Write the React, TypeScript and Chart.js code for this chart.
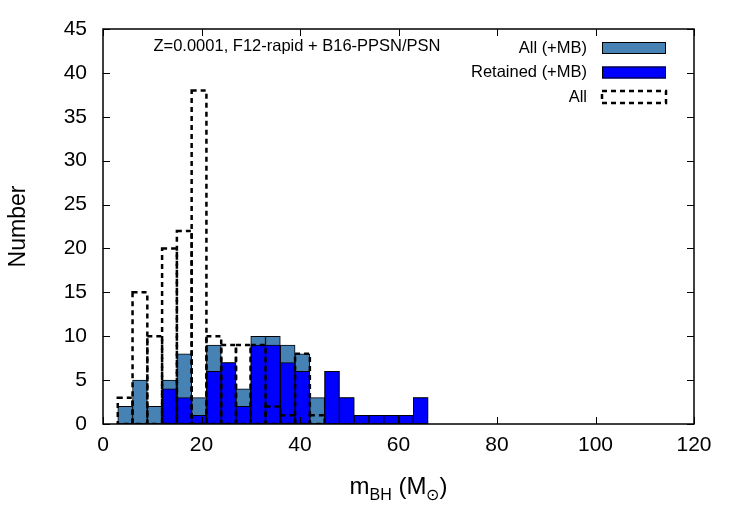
import { useEffect, useRef } from "react";
import { Chart, registerables } from "chart.js";

Chart.register(...registerables);

// Histogram bins: each bin spans [start, start + binWidth)
const binWidth = 3;
const binStarts = [3, 6, 9, 12, 15, 18, 21, 24, 27, 30, 33, 36, 39, 42, 45, 48, 51, 54, 57, 60, 63];
const allWithMB = [2, 5, 2, 5, 8, 3, 9, 7, 4, 10, 10, 9, 8, 3, 6, 3, 1, 1, 1, 1, 3];
const retainedWithMB = [0, 0, 0, 4, 3, 1, 6, 7, 2, 9, 9, 7, 6, 0, 6, 3, 1, 1, 1, 1, 3];
const allNoMB = [3, 15, 10, 20, 22, 38, 10, 9, 9, 9, 2, 1, 8, 1, 0, 0, 0, 0, 0, 0, 0];

const xTicks = [0, 20, 40, 60, 80, 100, 120];
const yTicks = [0, 5, 10, 15, 20, 25, 30, 35, 40, 45];

const titleText = "Z=0.0001, F12-rapid + B16-PPSN/PSN";
const legendLabels = ["All (+MB)", "Retained (+MB)", "All"];

const STEEL = "#4682b4";
const BLUE = "#0000ff";
const FONT = "'Liberation Sans', Arial, Helvetica, sans-serif";
const DASH = [5, 4];

const toPoints = (vals: number[]) =>
  binStarts.map((s, i) => ({ x: s + binWidth / 2, y: vals[i] === 0 ? null : vals[i] }));

// Dashed outline boxes for the "All" histogram
const dashedBoxes = {
  id: "dashedBoxes",
  afterDatasetsDraw(chart: any) {
    const { ctx, chartArea, scales } = chart;
    const x = scales.x;
    const y = scales.y;
    ctx.save();
    ctx.beginPath();
    ctx.rect(chartArea.left, chartArea.top, chartArea.right - chartArea.left, chartArea.bottom - chartArea.top);
    ctx.clip();
    ctx.strokeStyle = "#000";
    ctx.lineWidth = 2.5;
    ctx.setLineDash(DASH);
    binStarts.forEach((s, i) => {
      const v = allNoMB[i];
      if (!v) return;
      const x0 = x.getPixelForValue(s);
      const x1 = x.getPixelForValue(s + binWidth);
      const y0 = y.getPixelForValue(0);
      const y1 = y.getPixelForValue(v);
      ctx.strokeRect(x0, y1, x1 - x0, y0 - y1);
    });
    ctx.restore();
  },
};

// Frame, mirrored inward ticks, titles and key
const decorations = {
  id: "decorations",
  afterDraw(chart: any) {
    const { ctx, chartArea, scales } = chart;
    const { left, right, top, bottom } = chartArea;
    const x = scales.x;
    const y = scales.y;
    ctx.save();
    ctx.setLineDash([]);
    ctx.strokeStyle = "#000";
    ctx.lineWidth = 1.5;
    ctx.strokeRect(left, top, right - left, bottom - top);

    const tl = 7;
    ctx.lineWidth = 1;
    ctx.beginPath();
    xTicks.forEach((t) => {
      const px = Math.round(x.getPixelForValue(t)) + 0.5;
      ctx.moveTo(px, bottom);
      ctx.lineTo(px, bottom - tl);
      ctx.moveTo(px, top);
      ctx.lineTo(px, top + tl);
    });
    yTicks.forEach((t) => {
      const py = Math.round(y.getPixelForValue(t)) + 0.5;
      ctx.moveTo(left, py);
      ctx.lineTo(left + tl, py);
      ctx.moveTo(right, py);
      ctx.lineTo(right - tl, py);
    });
    ctx.stroke();

    ctx.fillStyle = "#000";

    // Title inside the plot
    ctx.font = `16.5px ${FONT}`;
    ctx.textAlign = "center";
    ctx.textBaseline = "middle";
    ctx.fillText(titleText, 297, 46);

    // Key
    const rows = [48, 72.5, 97];
    const bx0 = 602;
    const bx1 = 666;
    const bh = 12;
    ctx.font = `16.5px ${FONT}`;
    ctx.textAlign = "right";
    legendLabels.forEach((lab, i) => {
      ctx.fillText(lab, 587, rows[i]);
      const yTop = rows[i] - bh / 2;
      if (i < 2) {
        ctx.fillStyle = i === 0 ? STEEL : BLUE;
        ctx.fillRect(bx0, yTop, bx1 - bx0, bh);
        ctx.lineWidth = 1;
        ctx.strokeStyle = "#000";
        ctx.strokeRect(bx0 + 0.5, yTop + 0.5, bx1 - bx0 - 1, bh - 1);
        ctx.fillStyle = "#000";
      } else {
        ctx.lineWidth = 2.5;
        ctx.setLineDash(DASH);
        ctx.strokeRect(bx0, yTop, bx1 - bx0, bh);
        ctx.setLineDash([]);
      }
    });

    // Y axis title
    ctx.save();
    ctx.translate(19, (top + bottom) / 2);
    ctx.rotate(-Math.PI / 2);
    ctx.font = `23px ${FONT}`;
    ctx.textAlign = "center";
    ctx.textBaseline = "middle";
    ctx.fillText("Number", 0, 0);
    ctx.restore();

    // X axis title: m_BH (M_sun)
    const big = `24px ${FONT}`;
    const small = `16px ${FONT}`;
    const parts: [string, string, number][] = [
      ["m", big, 0],
      ["BH", small, 6],
      [" (M", big, 0],
      ["\u2299", small, 6],
      [")", big, 0],
    ];
    let total = 0;
    parts.forEach(([t, f]) => {
      ctx.font = f;
      total += ctx.measureText(t).width;
    });
    let cx = (left + right) / 2 - total / 2;
    const base = 494;
    ctx.textAlign = "left";
    ctx.textBaseline = "alphabetic";
    parts.forEach(([t, f, dy]) => {
      ctx.font = f;
      ctx.fillText(t, cx, base + dy);
      cx += ctx.measureText(t).width;
    });
    ctx.restore();
  },
};

export default function App() {
  const canvasRef = useRef<HTMLCanvasElement | null>(null);

  useEffect(() => {
    document.body.style.margin = "0";
    const canvas = canvasRef.current;
    if (!canvas) return;
    const chart = new Chart(canvas, {
      type: "bar",
      data: {
        datasets: [
          {
            label: legendLabels[0],
            data: toPoints(allWithMB) as any,
            backgroundColor: STEEL,
            borderColor: "#000",
            borderWidth: 1,
            borderSkipped: false,
            barPercentage: 1,
            categoryPercentage: 1,
            order: 2,
          },
          {
            label: legendLabels[1],
            data: toPoints(retainedWithMB) as any,
            backgroundColor: BLUE,
            borderColor: "#000",
            borderWidth: 1,
            borderSkipped: false,
            barPercentage: 1,
            categoryPercentage: 1,
            order: 1,
          },
        ],
      },
      options: {
        animation: false,
        responsive: false,
        maintainAspectRatio: false,
        devicePixelRatio: 1,
        grouped: false,
        layout: { padding: { left: 0, top: 29, right: 56, bottom: 0 } },
        plugins: {
          legend: { display: false },
          title: { display: false },
          tooltip: { enabled: false },
        },
        scales: {
          x: {
            type: "linear",
            min: 0,
            max: 120,
            offset: false,
            grid: { display: false, drawTicks: false, offset: false },
            border: { display: false },
            afterBuildTicks: (scale: any) => {
              scale.ticks = xTicks.map((v) => ({ value: v }));
            },
            afterFit: (scale: any) => {
              scale.height = 101;
            },
            ticks: {
              color: "#000",
              padding: 9,
              maxRotation: 0,
              autoSkip: false,
              font: { family: FONT, size: 21 },
            },
          },
          y: {
            type: "linear",
            min: 0,
            max: 45,
            grid: { display: false, drawTicks: false },
            border: { display: false },
            afterBuildTicks: (scale: any) => {
              scale.ticks = yTicks.map((v) => ({ value: v }));
            },
            afterFit: (scale: any) => {
              scale.width = 103;
            },
            ticks: {
              color: "#000",
              padding: 16,
              autoSkip: false,
              font: { family: FONT, size: 21 },
            },
          },
        },
      } as any,
      plugins: [dashedBoxes, decorations],
    });
    return () => chart.destroy();
  }, []);

  return (
    <div style={{ position: "absolute", left: 0, top: 0, width: 750, height: 525, background: "#fff" }}>
      <canvas ref={canvasRef} width={750} height={525} style={{ display: "block", width: 750, height: 525 }} />
    </div>
  );
}
